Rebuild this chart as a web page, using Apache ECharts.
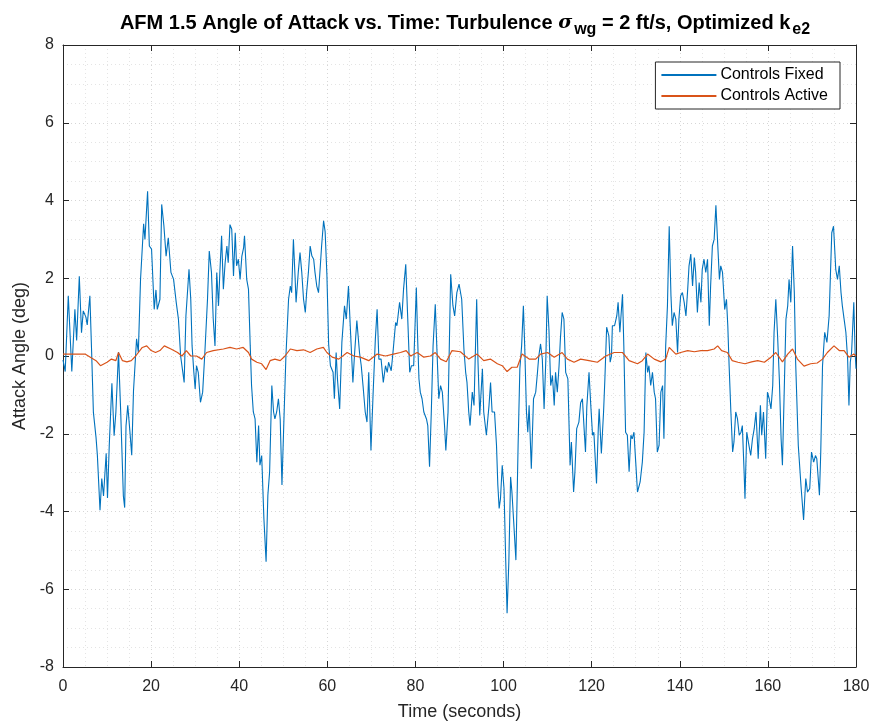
<!DOCTYPE html>
<html>
<head>
<meta charset="utf-8">
<script src="https://cdn.jsdelivr.net/npm/echarts@6/dist/echarts.min.js"></script>
<style>
html,body{margin:0;padding:0;background:#fff;}
#chart{width:875px;height:726px;}
</style>
</head>
<body>
<div id="chart"></div>
<script>
// ---- Data ----
const fixedTime = [0,0.5,1.2,2.0,2.7,3.1,3.7,4.2,4.6,5.2,5.5,6.1,6.5,6.9,7.5,7.8,8.4,8.8,9.2,9.8,10.1,10.5,11.1,11.6,12.0,12.6,13.1,13.7,14.0,14.3,14.7,15.2,15.6,16.0,16.7,17.1,17.6,18.3,18.6,19.2,19.6,20.1,20.7,21.1,21.4,22.0,22.4,22.9,23.4,23.9,24.5,25.1,25.7,26.2,26.7,27.2,27.5,27.9,28.6,29.0,29.3,29.7,30.0,30.3,30.7,31.2,31.7,32.2,32.8,33.2,33.7,34.1,34.5,34.9,35.3,35.6,36.0,36.4,36.8,37.2,37.5,37.9,38.3,38.7,39.1,39.4,39.8,40.2,40.6,41.0,41.2,41.7,42.1,42.5,42.8,43.2,43.6,44.0,44.4,44.7,45.1,45.6,46.1,46.5,46.9,47.4,47.8,48.1,48.5,48.9,49.3,49.7,50.2,50.6,51.2,51.6,51.9,52.3,52.7,52.9,53.4,53.8,54.2,54.6,55.0,55.3,55.7,56.1,56.5,56.9,57.2,57.6,58.0,58.4,58.7,59.15,59.5,59.9,60.3,60.7,61.3,61.6,62.0,62.3,62.8,63.3,63.9,64.3,64.8,65.2,65.8,66.2,66.7,67.3,67.7,68.1,68.6,69.0,69.4,69.9,70.4,70.9,71.3,71.7,72.2,72.7,73.2,73.6,73.9,74.5,74.9,75.5,75.8,76.4,76.9,77.3,77.8,78.2,78.7,79.1,79.6,80.2,80.5,80.8,81.1,81.5,81.9,82.5,82.8,83.2,83.6,84.0,84.5,84.9,85.3,85.7,86.1,86.6,86.9,87.4,88.0,88.5,88.9,89.4,89.9,90.5,91.0,91.4,91.7,92.1,92.4,92.9,93.3,93.9,94.2,94.6,95.2,95.5,96.1,96.7,97.05,97.4,97.95,98.4,98.7,99.0,99.3,99.7,100.1,100.5,100.8,101.2,101.6,101.9,102.3,102.8,103.3,103.7,104.1,104.5,104.8,105.2,105.5,105.8,106.3,106.8,107.3,107.7,108.0,108.4,108.8,109.2,109.6,109.9,110.3,110.7,111.1,111.5,111.8,112.2,112.6,112.9,113.3,113.7,114.1,114.6,115.1,115.4,115.9,116.2,116.6,117.1,117.5,117.9,118.3,118.6,118.9,119.4,119.8,120.2,120.5,121.1,121.5,121.7,122.2,122.7,123.0,123.4,123.9,124.2,124.5,124.7,125.2,125.7,126.0,126.4,127.0,127.3,127.7,128.1,128.5,128.9,129.2,129.6,130.0,130.4,131.0,131.5,131.9,132.3,132.7,133.0,133.4,133.8,134.2,134.5,134.9,135.3,135.7,136.1,136.4,136.8,137.2,137.6,138.0,138.3,138.7,139.1,139.5,139.8,140.2,140.6,141.0,141.4,141.8,142.1,142.5,142.9,143.3,143.6,144.0,144.4,144.8,145.1,145.5,145.9,146.3,146.7,147.0,147.4,147.8,148.2,148.6,149.0,149.3,149.7,150.2,150.6,150.9,151.2,151.6,152.0,152.3,152.7,153.1,153.5,153.9,154.2,154.6,154.8,155.2,155.7,156.1,156.5,156.9,157.3,157.8,158.3,158.6,159.0,159.5,159.9,160.3,160.7,161.1,161.4,161.8,162.2,162.6,163.0,163.3,163.7,164.1,164.5,164.8,165.2,165.6,166.0,166.3,166.9,167.5,168.1,168.6,169.0,169.5,169.9,170.4,170.8,171.1,171.7,172.0,172.4,172.9,173.4,173.9,174.5,174.9,175.4,175.8,176.2,176.6,176.9,177.3,177.7,178.1,178.4,178.7,179.0,179.5,179.8,180.0];
const fixedAngle = [-0.1,-0.4,1.55,-0.4,1.2,0.4,2.05,0.6,1.16,1.0,0.8,1.55,0.1,-1.45,-2.1,-2.55,-3.97,-3.15,-3.6,-2.5,-3.65,-2.3,-0.7,-2.05,-1.45,0.1,-1.45,-3.6,-3.9,-1.8,-1.27,-1.96,-2.55,-0.9,0.44,0.1,1.97,3.4,3.0,4.24,2.83,2.75,1.2,1.7,1.2,1.46,3.9,3.35,2.57,3.04,2.15,1.97,1.38,0.95,0,-0.42,-0.68,1.03,2.23,1.46,0.26,-0.42,-0.85,-0.25,-0.42,-1.19,-0.93,0.09,1.46,2.7,2.15,0.95,0.26,2.15,1.29,2.15,3.09,1.72,2.4,2.83,2.4,3.38,3.26,2.06,3.17,2.32,2.49,1.97,2.57,2.79,3.09,1.97,1.72,0.26,-0.76,-1.44,-1.62,-2.73,-1.79,-2.81,-2.56,-4.18,-5.29,-3.58,-2.98,-0.76,-1.44,-1.62,-1.44,-1.1,-1.62,-3.32,-1.44,0,1.46,1.8,1.63,3.0,1.97,1.38,2.15,2.66,2.15,1.46,1.12,1.63,2.15,2.83,2.57,2.49,2.15,1.8,1.63,2.3,2.83,3.48,3.2,2.1,0.3,-0.25,-0.42,-1.1,0.09,-0.59,-1.36,0.35,1.29,0.95,1.8,0.78,-0.68,0.09,0.91,0.09,-0.25,-0.76,-1.44,-1.7,-0.42,-2.43,-0.93,0.44,1.2,-0.08,-0.08,-0.68,-0.25,-0.42,-0.16,-0.38,0.09,0.86,0.78,1.38,0.95,1.72,2.36,1.12,-0.42,-0.25,-0.25,1.76,0.44,-0.59,-0.93,-1.1,-1.44,-1.62,-1.79,-2.85,-1.44,0.26,1.33,0.09,-1.1,-0.76,-0.93,-1.79,-2.43,-1.44,2.1,1.3,1.03,1.63,1.85,1.46,0.18,-0.42,-0.68,-1.44,-1.79,-0.93,-1.27,1.46,-0.16,-1.53,-0.33,-1.44,-2.04,-1.27,-0.68,-1.44,-1.44,-2.3,-3.32,-3.92,-3.67,-2.81,-3.41,-5.29,-6.62,-5.29,-3.11,-3.5,-4.26,-5.25,-2.3,-0.33,0.26,1.29,0.26,-1.44,-1.96,-1.27,-2.9,-1.1,-0.93,-0.42,0,0.31,-0.08,-1.36,-0.08,1.55,0.69,-0.76,-0.5,-1.27,-0.42,-0.93,-0.25,0.44,1.12,0.95,-0.42,-0.59,-2.81,-2.21,-3.5,-2.98,-1.87,-1.7,-1.2,-1.1,-1.9,-2.47,-1.3,-0.42,-1.27,-2.04,-1.96,-3.28,-1.87,-1.36,-2.51,-1.44,-0.59,0.74,0.52,-0.16,0,0.78,0.78,1.03,1.38,0.61,1.59,0.26,-1.96,-2.04,-2.98,-2.04,-2.13,-1.96,-2.73,-3.5,-3.24,-2.73,-1.96,0.09,-0.42,-0.25,-0.76,-0.42,-0.93,-1.1,-2.47,-2.3,-0.93,-0.76,-2.13,0.26,1.29,3.34,1.55,0.78,1.12,0.95,0.09,0.95,1.55,1.63,1.38,1.03,1.72,2.32,2.62,1.8,2.53,2.15,1.12,1.89,1.38,2.23,2.49,2.15,2.49,0.78,1.8,2.83,3.0,3.88,2.9,1.97,2.32,2.15,1.2,1.46,0.78,-0.25,-1.44,-2.47,-2.21,-1.44,-1.62,-2.04,-1.96,-1.79,-2.98,-3.67,-1.96,-2.3,-2.56,-2.13,-1.87,-1.44,-2.64,-1.27,-2.04,-1.44,-2.64,-0.93,-1.1,-1.36,-0.76,0.61,1.46,0.52,-0.59,-2.13,-2.81,-0.93,0.95,1.29,1.97,1.38,2.83,1.63,-0.16,-2.3,-3.32,-4.22,-3.15,-3.5,-3.41,-2.47,-2.73,-2.56,-2.64,-3.58,-2.47,-0.25,0.61,0.35,1.03,3.17,3.34,2.23,1.97,2.32,1.63,1.29,0.95,0.61,-0.08,-1.27,-0.16,0.09,1.38,0.09,-0.33];

const activeTime = [0,2,5,7.5,8.5,10,11,12,12.6,13.5,14.5,15.5,16.5,18,19,20,21,22,23,24.5,26,27,28,29,30.3,31.5,32.6,34.1,36.4,37.9,39.4,40.9,42.1,42.8,44,45.1,46.1,47,48.1,49.3,50.4,51.6,53.1,54.6,56.1,57.6,59.1,59.9,61.1,62.6,64.5,66,67.5,69.4,71.3,73.2,75,76.6,77.9,78.9,80.4,81.9,83.4,84.5,85.7,87,88.3,90.2,92.1,94,95.5,97,98.6,99.7,100.8,101.9,103.1,104.2,105.8,107.3,108.4,110,111.5,113.3,114.5,116,117.5,119.4,121.3,123.2,125.1,127,128.5,130.4,131.5,132.7,134.2,135.7,136.8,137.6,139.1,140.2,141.8,143.3,144.8,146.3,147.8,148.6,149.5,150.8,151.9,153.2,154.8,156.3,157.7,159.2,160.7,161.8,163.3,164.5,165.6,166.7,168.2,169.7,171.2,172.4,173.5,175,176.2,177.3,178.4,179.5,180];
const activeAngle = [0.05,0.05,0.05,-0.12,-0.25,-0.16,-0.08,-0.12,0.09,-0.12,-0.15,-0.12,0,0.22,0.26,0.14,0.09,0.14,0.26,0.18,0.09,0,0.14,0,0,-0.08,0.09,0.14,0.18,0.22,0.18,0.22,0.09,-0.08,-0.16,-0.2,-0.35,-0.12,-0.08,-0.12,0,0.18,0.14,0.16,0.09,0.18,0.22,0.09,-0.03,-0.08,0.09,0,-0.03,-0.12,0.05,0,0.05,0.09,0.14,0,0.09,-0.03,0,0.09,-0.08,-0.15,0.14,0.11,-0.08,0.05,-0.12,-0.08,-0.2,-0.25,-0.4,-0.29,-0.29,0.05,-0.08,-0.08,0.05,0.09,-0.03,0.09,-0.08,-0.16,-0.08,-0.12,-0.16,0,0.09,0.09,-0.12,-0.2,-0.12,0.05,-0.08,-0.15,-0.08,0.22,0.05,0.09,0.14,0.11,0.14,0.14,0.18,0.26,0.14,0.09,-0.12,-0.16,-0.2,-0.15,-0.12,-0.16,-0.03,0.09,-0.15,0.05,0.18,-0.08,-0.26,-0.2,-0.18,-0.08,0.09,0.26,0.14,0.14,-0.03,0.05,0];

const xTicks = [0,20,40,60,80,100,120,140,160,180];
const yTicks = [-8,-6,-4,-2,0,2,4,6,8];
const seriesNames = ['Controls Fixed','Controls Active'];

// ---- Chart ----
const pairs = (t, v) => t.map((x, i) => [x, v[i]]);
const FONT = 'Liberation Sans, Arial, Helvetica, sans-serif';
const TXT = '#262626';

const chart = echarts.init(document.getElementById('chart'), null, {renderer: 'canvas'});
const baseAxis = {
  type: 'value',
  axisLine: {show: true, onZero: false, lineStyle: {color: '#262626', width: 1}},
  axisTick: {show: true, inside: true, length: 6, lineStyle: {color: '#262626'}},
  minorTick: {show: false, splitNumber: 4},
  splitLine: {show: true, lineStyle: {color: '#d6d6d6', type: [1, 3], width: 1}},
  minorSplitLine: {show: true, lineStyle: {color: '#e4e4e4', type: [1, 3], width: 1}},
  axisLabel: {color: TXT, fontFamily: FONT, fontSize: 16}
};

chart.setOption({
  animation: false,
  backgroundColor: '#ffffff',
  title: {
    text: '{a|AFM 1.5 Angle of Attack vs. Time: Turbulence }{s|σ}{sub|wg}{a| = 2 ft/s, Optimized k}{sub|e2}',
    left: 460, top: 6, textAlign: 'center',
    textStyle: {
      rich: {
        a: {fontFamily: FONT, fontWeight: 'bold', fontSize: 20, color: '#000', lineHeight: 24},
        s: {fontFamily: 'DejaVu Serif, serif', fontStyle: 'italic', fontSize: 19, color: '#000', lineHeight: 24},
        sub: {fontFamily: FONT, fontWeight: 'bold', fontSize: 16, color: '#000', padding: [14, 0, 0, 2], lineHeight: 24}
      }
    }
  },
  legend: {
    data: seriesNames,
    orient: 'vertical',
    right: 35, top: 62,
    backgroundColor: '#fff',
    borderColor: '#262626', borderWidth: 1,
    padding: [5, 12, 5, 6],
    itemGap: 5,
    itemWidth: 55, itemHeight: 2,
    icon: 'rect',
    textStyle: {fontFamily: FONT, fontSize: 16, color: '#000', padding: [0, 0, 0, -1]}
  },
  grid: {left: 63, right: 19, top: 45, bottom: 57, containLabel: false, show: false},
  xAxis: [
    Object.assign({}, baseAxis, {
      min: 0, max: 180, interval: 20, position: 'bottom',
      name: 'Time (seconds)', nameLocation: 'middle', nameGap: 36,
      nameTextStyle: {fontFamily: FONT, fontSize: 18, color: TXT},
      axisLabel: Object.assign({}, baseAxis.axisLabel, {margin: 12, formatter: v => xTicks.includes(v) ? String(v) : ''})
    }),
    Object.assign({}, baseAxis, {
      min: 0, max: 180, interval: 20, position: 'top',
      splitLine: {show: false}, minorSplitLine: {show: false},
      axisLabel: {show: false}
    })
  ],
  yAxis: [
    Object.assign({}, baseAxis, {
      min: -8, max: 8, interval: 2, position: 'left',
      name: 'Attack Angle (deg)', nameLocation: 'middle', nameGap: 29, nameRotate: 90,
      nameTextStyle: {fontFamily: FONT, fontSize: 18, color: TXT},
      axisLabel: Object.assign({}, baseAxis.axisLabel, {margin: 9, formatter: v => yTicks.includes(v) ? String(v) : ''})
    }),
    Object.assign({}, baseAxis, {
      min: -8, max: 8, interval: 2, position: 'right',
      splitLine: {show: false}, minorSplitLine: {show: false},
      axisLabel: {show: false}
    })
  ],
  series: [
    {
      name: seriesNames[0], type: 'line', data: pairs(fixedTime, fixedAngle),
      showSymbol: false, symbol: 'none', smooth: false,
      lineStyle: {color: '#0072BD', width: 1.1}, itemStyle: {color: '#0072BD'}, z: 3
    },
    {
      name: seriesNames[1], type: 'line', data: pairs(activeTime, activeAngle),
      showSymbol: false, symbol: 'none', smooth: false,
      lineStyle: {color: '#D95319', width: 1.2}, itemStyle: {color: '#D95319'}, z: 4
    }
  ]
});
</script>
</body>
</html>
